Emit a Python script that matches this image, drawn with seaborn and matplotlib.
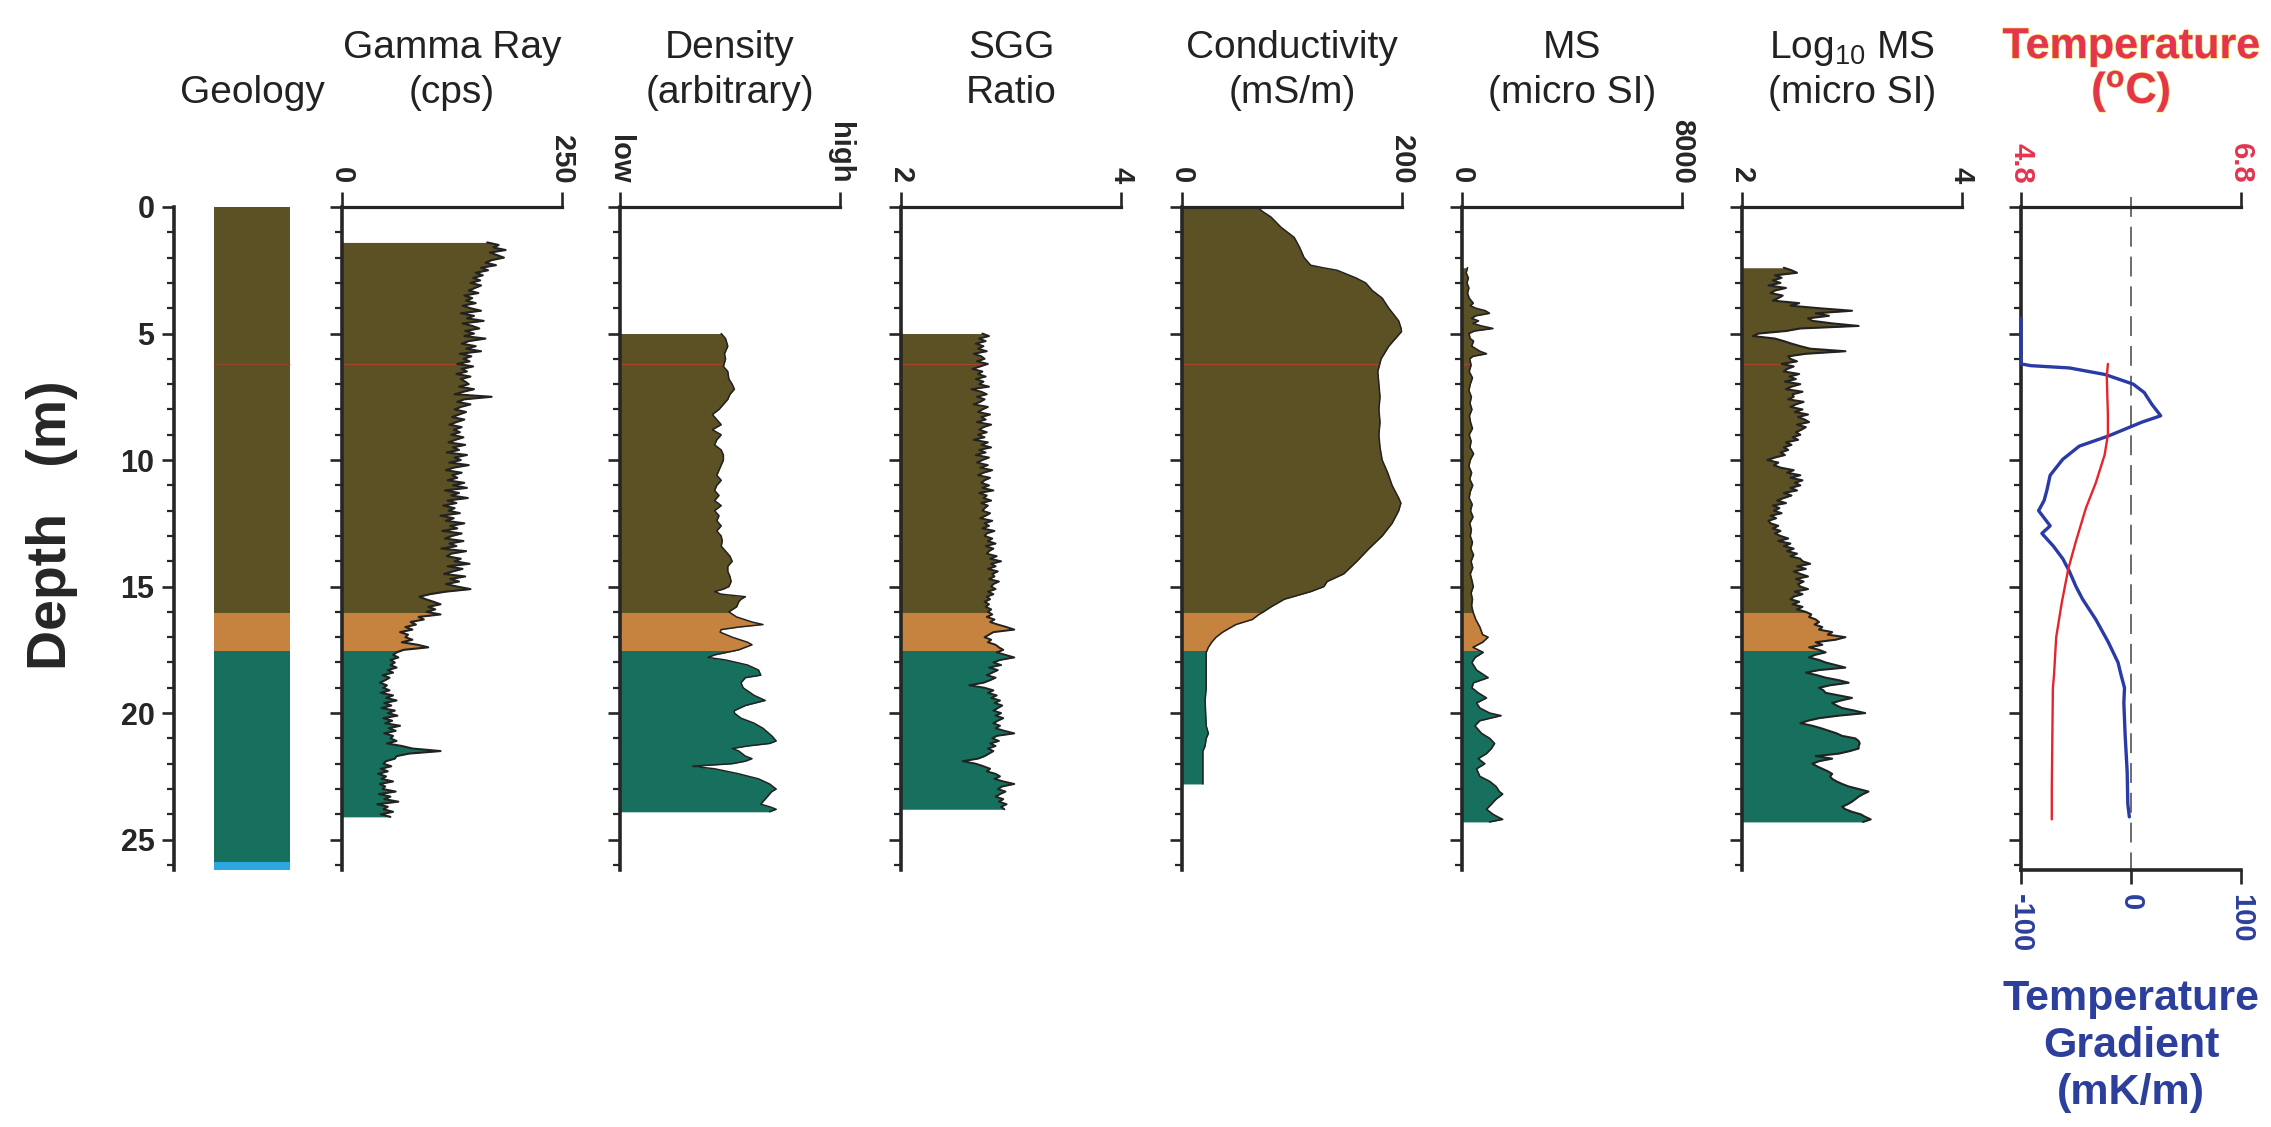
import numpy as np
import matplotlib
matplotlib.use("Agg")
import matplotlib.pyplot as plt
from matplotlib.patches import Rectangle
from matplotlib.ticker import MultipleLocator
import matplotlib.patheffects as pe
import seaborn as sns

# ------------------------------------------------------------------
# Borehole data
# ------------------------------------------------------------------
# Geological units (depth in m)
layer_tops = [0.0, 16.05, 17.55, 25.9]
layer_bases = [16.05, 17.55, 25.9, 26.2]
layer_colors = ["#5c5025", "#c6823f", "#17705d", "#2aa8df"]
water_level = 6.2

# Natural gamma (cps), sampled every 0.1 m from 1.4 m
gamma_start, gamma_step = 1.4, 0.1
gamma_cps = [
    165, 178, 172, 186, 168, 176,
    184, 170, 163, 175, 158, 166, 152, 160, 149, 157,
    146, 158, 151, 144, 155, 139, 148, 141, 152, 137,
    146, 158, 135, 150, 142, 161, 137, 148, 156, 140,
    150, 139, 163, 144, 136, 152, 141, 158, 134, 147,
    138, 145, 131, 149, 136, 142, 130, 146, 135, 140,
    144, 133, 150, 138, 128, 170, 139, 131, 146, 135,
    128, 141, 133, 125, 139, 130, 122, 136, 127, 134,
    124, 138, 129, 121, 140, 126, 133, 119, 142, 128,
    135, 122, 144, 127, 118, 136, 125, 131, 120, 139,
    126, 142, 117, 133, 124, 143, 120, 130, 115, 128,
    121, 134, 112, 127, 118, 139, 123, 131, 114, 136,
    125, 117, 138, 122, 130, 113, 141, 124, 119, 135,
    128, 145, 120, 137, 126, 116, 140, 123, 133, 118,
    131, 146, 118, 100, 88, 95, 104, 112, 98, 106,
    96, 112, 87, 93, 78, 84, 72, 80, 66, 75,
    72, 80, 68, 86, 98, 70, 62, 58, 64, 55,
    60, 55, 62, 52, 58, 46, 54, 49, 43, 51,
    47, 54, 44, 58, 50, 62, 48, 56, 45, 60,
    52, 63, 47, 57, 49, 66, 53, 61, 48, 58,
    55, 62, 51, 68, 80, 112, 76, 62, 60, 50,
    47, 56, 44, 52, 41, 50, 45, 58, 43, 49,
    46, 61, 42, 55, 48, 64, 40, 52, 47, 58,
    44, 55,
]

# Density (relative, 0 = low, 100 = high)
density_depth = [
    5.0, 5.2, 5.5, 5.8, 6.0, 6.3, 6.5, 6.8, 7.0, 7.2, 7.4, 7.6, 7.8, 8.0,
    8.2, 8.4, 8.6, 8.8, 9.0, 9.2, 9.4, 9.6, 9.8, 10.0, 10.2, 10.4, 10.6,
    10.8, 11.0, 11.2, 11.4, 11.6, 11.8, 12.0, 12.2, 12.4, 12.6, 12.8, 13.0,
    13.2, 13.4, 13.6, 13.8, 14.0, 14.2, 14.4, 14.6, 14.8, 15.0, 15.1, 15.2,
    15.3, 15.4, 15.5, 15.6, 15.8, 16.0, 16.2, 16.4, 16.5, 16.6, 16.7, 16.8,
    17.0, 17.2, 17.3, 17.5, 17.7, 17.8, 17.9, 18.1, 18.3, 18.5, 18.6, 18.8,
    19.0, 19.3, 19.5, 19.7, 19.9, 20.0, 20.2, 20.4, 20.6, 20.9, 21.1, 21.2,
    21.3, 21.4, 21.5, 21.7, 21.8, 21.9, 22.0, 22.1, 22.2, 22.4, 22.6, 22.8,
    23.0, 23.1, 23.3, 23.5, 23.6, 23.7, 23.8, 23.9,
]
density_rel = [
    46, 48, 49, 47.5, 48, 47, 49, 49.5, 51, 52, 50, 49, 47, 45,
    42, 44, 46, 42, 46, 44, 43, 46, 47, 47, 46, 45, 44,
    46, 44, 43, 45, 43, 46, 43, 45, 44, 46, 44, 46,
    46.5, 46, 48, 50, 51, 49, 49, 50, 50.5, 49.5, 47, 43,
    46, 57, 55, 54, 53, 49.5, 53, 60, 65, 54, 46, 45.5,
    51, 58, 60, 54, 43, 40, 48, 58, 63, 64, 57, 55,
    56, 61, 66, 57, 52, 52, 55, 61, 65, 69, 71, 68,
    58, 51, 54, 57, 60, 57, 51, 33, 43, 54, 63, 68,
    71, 69, 67, 65, 64, 68, 71, 68,
]

# SGG ratio, sampled every 0.1 m from 5.0 m
sgg_start, sgg_step = 5.0, 0.1
sgg_ratio = [
    2.74, 2.80, 2.71, 2.77, 2.68, 2.75, 2.70, 2.78, 2.66, 2.73,
    2.76, 2.69, 2.79, 2.72, 2.65, 2.74, 2.70, 2.77, 2.68, 2.75,
    2.71, 2.80, 2.64, 2.73, 2.78, 2.69, 2.76, 2.72, 2.66, 2.79,
    2.74, 2.70, 2.81, 2.73, 2.77, 2.69, 2.82, 2.75, 2.71, 2.78,
    2.70, 2.76, 2.66, 2.79, 2.73, 2.82, 2.71, 2.77, 2.68, 2.80,
    2.74, 2.69, 2.79, 2.72, 2.83, 2.75, 2.70, 2.81, 2.76, 2.73,
    2.80, 2.74, 2.84, 2.71, 2.78, 2.75, 2.82, 2.73, 2.79, 2.76,
    2.74, 2.81, 2.77, 2.72, 2.83, 2.76, 2.80, 2.74, 2.85, 2.78,
    2.76, 2.83, 2.79, 2.86, 2.77, 2.84, 2.80, 2.78, 2.87, 2.81,
    2.91, 2.82, 2.86, 2.79, 2.88, 2.83, 2.85, 2.80, 2.89, 2.84,
    2.82, 2.86, 2.79, 2.84, 2.78, 2.81, 2.76, 2.80, 2.77, 2.82,
    2.79, 2.83, 2.78, 2.85, 2.81, 2.88, 2.96, 3.03, 2.84, 2.80,
    2.76, 2.82, 2.79, 2.86, 2.89, 2.93, 2.87, 2.95, 3.03, 2.90,
    2.84, 2.91, 2.80, 2.88, 2.83, 2.78, 2.86, 2.81, 2.75, 2.62,
    2.76, 2.84, 2.79, 2.87, 2.82, 2.90, 2.85, 2.92, 2.88, 2.84,
    2.91, 2.86, 2.93, 2.88, 2.84, 2.90, 2.86, 2.94, 3.03, 2.87,
    2.83, 2.89, 2.81, 2.86, 2.79, 2.84, 2.80, 2.76, 2.70, 2.56,
    2.68, 2.75, 2.81, 2.78, 2.86, 2.90, 2.85, 2.93, 3.03, 2.92,
    2.88, 2.95, 2.90, 2.86, 2.93, 2.89, 2.96, 2.91, 2.94,
]

# EM conductivity (mS/m)
cond_depth = [
    0.0, 0.2, 0.4, 0.8, 1.2, 1.6, 2.0, 2.3, 2.4, 2.5, 2.8, 3.0, 3.3, 3.6,
    4.0, 4.5, 4.9, 5.2, 5.5, 6.0, 6.5, 7.0, 7.5, 8.0, 8.5, 9.0, 9.5, 10.0,
    10.5, 11.0, 11.5, 11.7, 12.0, 12.5, 13.0, 13.5, 14.0, 14.5, 14.8, 15.0,
    15.2, 15.5, 15.8, 16.0, 16.1, 16.3, 16.5, 16.8, 17.0, 17.2, 17.4, 17.6,
    18.0, 19.0, 19.5, 20.0, 20.5, 20.8, 21.0, 21.3, 21.5, 22.0, 22.5, 22.8,
]
cond_mSm = [
    68, 74, 81, 90, 102, 107, 111, 117, 128, 141, 158, 167, 173, 182,
    188, 197, 200, 194, 188, 181, 178, 179, 180, 179, 180, 179, 180, 182,
    187, 191, 197, 199, 197, 191, 182, 170, 159, 147, 132, 129,
    117, 93, 81, 74, 70, 64, 49, 37, 31, 27, 24, 22,
    22, 22, 21, 21.5, 22, 24, 22, 21, 19, 19, 19, 19,
]

# Magnetic susceptibility (micro SI)
ms_depth = [
    2.4, 2.6, 2.8, 3.0, 3.2, 3.4, 3.6, 3.8, 3.9, 4.0, 4.1, 4.2, 4.3, 4.4,
    4.5, 4.6, 4.7, 4.8, 4.9, 5.0, 5.2, 5.3, 5.5, 5.6, 5.7, 5.8, 5.9, 6.0,
    6.25, 6.5, 6.75, 7.0, 7.25, 7.5, 7.75, 8.0, 8.25, 8.5, 8.75, 9.0, 9.25,
    9.5, 9.75, 10.0, 10.25, 10.5, 10.75, 11.0, 11.25, 11.5, 11.75, 12.0,
    12.25, 12.5, 12.75, 13.0, 13.25, 13.5, 13.75, 14.0, 14.25, 14.5, 14.75,
    15.0, 15.25, 15.5, 15.75, 16.0, 16.3, 16.6, 16.9, 17.0, 17.2, 17.4,
    17.6, 17.8, 18.0, 18.3, 18.6, 18.8, 19.0, 19.2, 19.4, 19.6, 19.8, 20.0,
    20.1, 20.3, 20.5, 20.8, 21.0, 21.2, 21.4, 21.6, 21.8, 22.0, 22.2, 22.5,
    22.7, 22.9, 23.1, 23.2, 23.4, 23.6, 23.8, 24.0, 24.1, 24.2, 24.3,
]
ms_microSI = [
    200, 150, 230, 180, 250, 200, 260, 410, 300, 500, 850, 1000, 500, 350,
    600, 400, 700, 1125, 450, 250, 300, 420, 350, 500, 650, 890, 400, 280,
    330, 260, 380, 300, 250, 340, 290, 360, 270, 310, 380, 260, 330,
    290, 420, 300, 250, 350, 280, 390, 300, 260, 370, 310,
    400, 280, 340, 300, 380, 320, 420, 330, 390, 300, 360,
    410, 330, 380, 350, 400, 500, 650, 750, 950, 750, 400,
    770, 480, 360, 530, 950, 420, 360, 590, 890, 530, 650, 1010,
    1420, 650, 470, 710, 1010, 1185, 1070, 890, 590, 830, 530, 650,
    1010, 1240, 1360, 1480, 1240, 1070, 890, 1130, 1300, 1480, 1000,
]

# log10 of magnetic susceptibility, sampled every 0.1 m from 2.4 m
logms_start, logms_step = 2.4, 0.1
logms = [
    2.38, 2.45, 2.50, 2.30, 2.36, 2.28,
    2.35, 2.24, 2.40, 2.30, 2.26, 2.37, 2.33, 2.28, 2.52, 2.44,
    2.70, 3.00, 2.67, 2.79, 2.60, 2.64, 2.82, 3.06, 2.53, 2.40,
    2.15, 2.10, 2.30, 2.38, 2.45, 2.53, 2.62, 2.94, 2.58, 2.42,
    2.44, 2.50, 2.36, 2.47, 2.41, 2.38, 2.52, 2.43, 2.49, 2.39,
    2.53, 2.45, 2.40, 2.55, 2.46, 2.47, 2.42, 2.56, 2.49, 2.44,
    2.55, 2.48, 2.60, 2.51, 2.57, 2.61, 2.50, 2.58, 2.54, 2.49,
    2.53, 2.46, 2.51, 2.40, 2.45, 2.38, 2.42, 2.35, 2.39, 2.30,
    2.23, 2.33, 2.29, 2.35, 2.47, 2.41, 2.53, 2.44, 2.55, 2.48,
    2.53, 2.44, 2.50, 2.38, 2.45, 2.38, 2.32, 2.40, 2.28, 2.34,
    2.29, 2.36, 2.26, 2.31, 2.24, 2.26, 2.33, 2.28, 2.35, 2.30,
    2.35, 2.42, 2.33, 2.44, 2.38, 2.47, 2.41, 2.50, 2.44, 2.53,
    2.55, 2.62, 2.50, 2.58, 2.47, 2.53, 2.60, 2.49, 2.56, 2.51,
    2.53, 2.60, 2.48, 2.55, 2.47, 2.44, 2.52, 2.46, 2.55, 2.50,
    2.58, 2.63, 2.61, 2.67, 2.70, 2.66, 2.73, 2.70, 2.82, 2.78,
    2.94, 2.85, 2.67, 2.73, 2.61, 2.70, 2.76, 2.66, 2.61, 2.70,
    2.76, 2.85, 2.94, 2.70, 2.58, 2.68, 2.76, 2.88, 2.97, 2.80,
    2.70, 2.74, 2.76, 2.88, 3.00, 2.90, 2.82, 2.86, 2.91, 3.02,
    3.12, 2.88, 2.70, 2.60, 2.53, 2.64, 2.72, 2.79, 2.86, 2.91,
    3.03, 3.06, 3.07, 3.06, 3.06, 2.98, 2.88, 2.67, 2.82, 2.70,
    2.64, 2.68, 2.73, 2.78, 2.82, 2.80, 2.82, 2.86, 2.91, 2.97,
    3.06, 3.15, 3.10, 3.06, 3.03, 3.00, 2.96, 2.91, 2.94, 3.00,
    3.08, 3.12, 3.17, 3.10,
]

# Fluid temperature (deg C) and temperature gradient (mK/m)
temp_depth = [6.2, 6.7, 7.5, 8.2, 9.0, 9.8, 10.9, 11.9, 13.2, 14.3, 15.65,
              17.0, 18.5, 19.0, 20.9, 23.0, 24.2]
temp_C = [5.59, 5.58, 5.585, 5.59, 5.59, 5.56, 5.48, 5.39, 5.30, 5.23, 5.17,
          5.12, 5.10, 5.09, 5.085, 5.08, 5.08]
grad_depth = [4.4, 6.2, 6.27, 6.36, 6.62, 7.0, 7.33, 7.8, 8.25, 8.5, 9.05,
              9.45, 9.97, 10.6, 11.2, 11.6, 12.0, 12.6, 12.9, 13.4, 13.9,
              14.4, 15.0, 15.5, 16.3, 17.2, 18.0, 18.5, 19.0, 19.6, 20.9,
              22.3, 23.6, 24.1]
grad_mKm = [-100, -100, -91, -56, -23.5, 2, 12, 19, 27, 10, -20.6,
            -47, -62, -73.5, -76.5, -79, -84, -73.5, -81, -70.6, -62,
            -56, -50, -44, -32, -20.6, -11.8, -9, -5.9, -6.5, -5.3,
            -3.5, -2.9, -1.5]

# Track headers and scale annotations
geology_title = "Geology"
track_titles = [
    ("Gamma Ray", "(cps)"),
    ("Density", "(arbitrary)"),
    ("SGG", "Ratio"),
    ("Conductivity", "(mS/m)"),
    ("MS", "(micro SI)"),
    (r"Log$_{10}$ MS", "(micro SI)"),
]
track_limits = [(0, 250), (0, 100), (2, 4), (0, 200), (0, 8000), (2, 4)]
track_ticklabels = [("0", "250"), ("low", "high"), ("2", "4"), ("0", "200"),
                    ("0", "8000"), ("2", "4")]
temp_limits = (4.8, 6.8)
temp_ticklabels = ("4.8", "6.8")
grad_limits = (-100, 100)
grad_ticks = [-100, 0, 100]
grad_ticklabels = ["-100", "0", "100"]
depth_ticks = [0, 5, 10, 15, 20, 25]
DEPTH_MAX = 26.2

# ------------------------------------------------------------------
# Styling
# ------------------------------------------------------------------
sns.set_theme(style="white")
plt.rcParams["font.family"] = ["Liberation Sans", "DejaVu Sans"]
plt.rcParams["mathtext.fontset"] = "custom"
plt.rcParams["mathtext.rm"] = "Liberation Sans"
plt.rcParams["mathtext.bf"] = "Liberation Sans:bold"
plt.rcParams["mathtext.it"] = "Liberation Sans:italic"

INK = "#262626"
HEAD_INK = "#222222"
EDGE = "#222222"
RED = "#e5344f"
RED_LINE = "#e4262c"
BLUE = "#2c3f9c"
BLUE_LINE = "#2a3aa6"

FIG_W, FIG_H = 2271, 1127
Y_TOP, Y_BOT = 207, 870
TRACK_LEFTS = [342, 620, 901, 1182, 1462, 1742]
TEMP_LEFT = 2021
TRACK_W = 220
GEO_LEFT, GEO_W = 174, 126

fig = plt.figure(figsize=(FIG_W / 100, FIG_H / 100), dpi=100)
fig.patch.set_facecolor("white")


def rect(x_left, width):
    return [x_left / FIG_W, 1 - Y_BOT / FIG_H, width / FIG_W,
            (Y_BOT - Y_TOP) / FIG_H]


def style_depth(ax, show_labels=False):
    ax.set_ylim(DEPTH_MAX, 0)
    ax.set_yticks(depth_ticks, labels=[str(d) for d in depth_ticks],
                  fontsize=22, fontweight="bold", color=INK)
    ax.yaxis.set_minor_locator(MultipleLocator(1))
    ax.tick_params(axis="y", which="major", left=True, right=False,
                   direction="out", length=9, width=1.9, color=INK,
                   labelleft=show_labels, pad=5)
    ax.tick_params(axis="y", which="minor", left=True, right=False,
                   direction="out", length=5, width=1.6, color=INK)
    for side in ("right", "bottom"):
        ax.spines[side].set_visible(False)
    ax.spines["left"].set_linewidth(2.6)
    ax.spines["left"].set_color(INK)
    ax.set_facecolor("none")
    ax.set_xlabel("")
    ax.set_ylabel("")


def style_top(ax, lo, hi, labels, color=INK):
    ax.set_xlim(lo, hi)
    ax.xaxis.tick_top()
    ax.set_xticks([lo, hi], labels=list(labels), rotation=-90, fontsize=21,
                  fontweight="bold", color=color)
    ax.tick_params(axis="x", which="both", top=True, bottom=False,
                   labeltop=True, labelbottom=False, direction="out",
                   length=11, width=1.9, color=INK, pad=6)
    ax.spines["top"].set_linewidth(2.3)
    ax.spines["top"].set_color(INK)


def layered_fill(ax, depth, values, x0, lo, hi):
    span = hi - lo
    polys = []
    for top, base, col in zip(layer_tops, layer_bases, layer_colors):
        poly = ax.fill_betweenx(depth, x0, values, color=col, linewidth=0,
                                zorder=1)
        poly.set_clip_path(Rectangle((lo - span, top), 3 * span, base - top,
                                     transform=ax.transData))
        polys.append(poly)
    outline = polys[0].get_paths()[0]
    wl, = ax.plot([lo, hi], [water_level, water_level], color="#c8402e",
                  lw=0.9, alpha=0.7, zorder=2)
    wl.set_clip_path(outline, ax.transData)


# ---- Geology column with depth scale ----
ax_geo = fig.add_axes(rect(GEO_LEFT, GEO_W))
ax_geo.set_xlim(0, 1)
for top, base, col in zip(layer_tops, layer_bases, layer_colors):
    ax_geo.fill_betweenx([top, base], 0.317, 0.921, color=col, linewidth=0)
ax_geo.plot([0.317, 0.921], [water_level, water_level], color="#c8402e",
            lw=0.8, alpha=0.5)
style_depth(ax_geo, show_labels=True)
ax_geo.spines["top"].set_visible(False)
ax_geo.set_xticks([])
ax_geo.tick_params(axis="x", top=False, bottom=False)
ax_geo.set_ylim(DEPTH_MAX, 0)

# ---- Log tracks ----
track_series = [
    (gamma_start + gamma_step * np.arange(len(gamma_cps)), gamma_cps),
    (np.array(density_depth), density_rel),
    (sgg_start + sgg_step * np.arange(len(sgg_ratio)), sgg_ratio),
    (np.array(cond_depth), cond_mSm),
    (np.array(ms_depth), ms_microSI),
    (logms_start + logms_step * np.arange(len(logms)), logms),
]
edge_widths = [1.5, 1.1, 1.4, 1.1, 1.2, 1.5]

for left, (depth, vals), (lo, hi), labels, lw in zip(
        TRACK_LEFTS, track_series, track_limits, track_ticklabels,
        edge_widths):
    ax = fig.add_axes(rect(left, TRACK_W))
    vals = np.asarray(vals, dtype=float)
    layered_fill(ax, depth, vals, lo, lo, hi)
    sns.lineplot(x=vals, y=depth, orient="y", sort=False, estimator=None,
                 color=EDGE, linewidth=lw, ax=ax, zorder=3)
    style_depth(ax)
    style_top(ax, lo, hi, labels)
    ax.set_ylim(DEPTH_MAX, 0)

# ---- Temperature / gradient track ----
ax_g = fig.add_axes(rect(TEMP_LEFT, TRACK_W))
sns.lineplot(x=grad_mKm, y=grad_depth, orient="y", sort=False,
             estimator=None, color=BLUE_LINE, linewidth=2.4, ax=ax_g,
             zorder=3, clip_on=False)
ax_g.plot([0, 0], [-0.4, DEPTH_MAX + 0.3], color="#444444", lw=1.1,
          linestyle=(0, (13, 6.5)), clip_on=False, zorder=2)
style_depth(ax_g)
ax_g.spines["bottom"].set_visible(True)
ax_g.spines["bottom"].set_linewidth(2.6)
ax_g.spines["bottom"].set_color(INK)
ax_g.spines["top"].set_visible(False)
ax_g.set_xlim(*grad_limits)
ax_g.set_xticks(grad_ticks, labels=grad_ticklabels, rotation=-90, fontsize=21,
                fontweight="bold", color=BLUE)
ax_g.tick_params(axis="x", bottom=True, top=False, labelbottom=True,
                 labeltop=False, direction="out", length=10, width=1.9,
                 color=INK, pad=7)
ax_g.xaxis.get_major_ticks()[1].tick1line.set_visible(False)
ax_g.set_ylim(DEPTH_MAX, 0)

ax_t = ax_g.twiny()
sns.lineplot(x=temp_C, y=temp_depth, orient="y", sort=False, estimator=None,
             color=RED_LINE, linewidth=1.7, ax=ax_t, zorder=4)
for side in ("left", "right", "bottom"):
    ax_t.spines[side].set_visible(False)
style_top(ax_t, *temp_limits, temp_ticklabels, color=RED)
ax_t.set_xlabel("")
ax_t.set_ylabel("")
ax_g.set_ylim(DEPTH_MAX, 0)

# ------------------------------------------------------------------
# Headers
# ------------------------------------------------------------------
LINE1_Y = 1 - 58 / FIG_H
LINE2_Y = 1 - 103 / FIG_H
HEAD_SIZE = 28


def fig_x(px):
    return px / FIG_W


fig.text(fig_x(GEO_LEFT + 78), LINE2_Y, geology_title, ha="center",
         va="baseline", fontsize=HEAD_SIZE, color=HEAD_INK)
for left, (l1, l2) in zip(TRACK_LEFTS, track_titles):
    cx = fig_x(left + TRACK_W / 2)
    fig.text(cx, LINE1_Y, l1, ha="center", va="baseline", fontsize=HEAD_SIZE,
             color=HEAD_INK)
    fig.text(cx, LINE2_Y, l2, ha="center", va="baseline", fontsize=HEAD_SIZE,
             color=HEAD_INK)

halo = [pe.withStroke(linewidth=1.0, foreground="#f1d21a", alpha=0.7)]
tcx = fig_x(TEMP_LEFT + TRACK_W / 2)
fig.text(tcx, LINE1_Y, "Temperature", ha="center", va="baseline",
         fontsize=31, fontweight="bold", color=RED, path_effects=halo)
fig.text(tcx, LINE2_Y, r"($^{\mathbf{o}}$C)", ha="center", va="baseline",
         fontsize=31, fontweight="bold", color=RED, path_effects=halo)

for text, ybase in (("Temperature", 1010), ("Gradient", 1057),
                    ("(mK/m)", 1104)):
    fig.text(tcx, 1 - ybase / FIG_H, text, ha="center", va="baseline",
             fontsize=31, fontweight="bold", color=BLUE)

fig.text(fig_x(52), 1 - 525 / FIG_H, "Depth   (m)", rotation=90, ha="center",
         va="center", fontsize=40, fontweight="bold", color=INK)

fig.savefig("out.png", dpi=100, facecolor="white")
